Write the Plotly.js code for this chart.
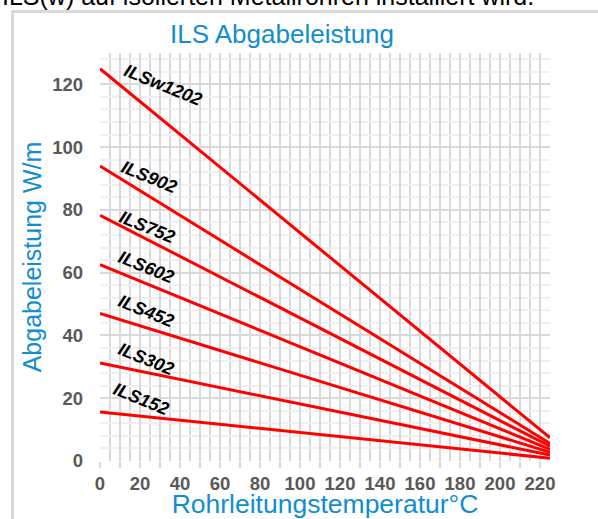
<!DOCTYPE html>
<html>
<head>
<meta charset="utf-8">
<script src="https://cdn.plot.ly/plotly-3.0.1.min.js"></script>
<style>
  html, body { margin: 0; padding: 0; background: #ffffff; }
  #chart { width: 598px; height: 519px; }
</style>
</head>
<body>
<div id="chart"></div>
<script>
// ---- data ----
const seriesNames = ["ILSw1202", "ILS902", "ILS752", "ILS602", "ILS452", "ILS302", "ILS152"];
const temperatures = [0, 225];
const ILSw1202 = [125, 7.4];
const ILS902 = [94, 5.6];
const ILS752 = [78.3, 4.7];
const ILS602 = [62.6, 3.7];
const ILS452 = [47, 2.8];
const ILS302 = [31.2, 1.9];
const ILS152 = [15.6, 0.9];
const seriesValues = [ILSw1202, ILS902, ILS752, ILS602, ILS452, ILS302, ILS152];
const xTickVals = [0, 10, 20, 30, 40, 50, 60, 70, 80, 90, 100, 110, 120, 130, 140, 150, 160, 170, 180, 190, 200, 210, 220];
const xTickText = ["0", "", "20", "", "40", "", "60", "", "80", "", "100", "", "120", "", "140", "", "160", "", "180", "", "200", "", "220"];
const yTickVals = [0, 20, 40, 60, 80, 100, 120];
const titleText = "ILS Abgabeleistung";
const xTitle = "Rohrleitungstemperatur°C";
const yTitle = "Abgabeleistung W/m";
const topText = "ILS(w) auf isolierten Metallrohren installiert wird.";

// ---- label placement (data coords) ----
const labelPos = [
  [31.5, 119.8], [24.5, 90.4], [23.5, 74.5], [23, 61.7], [23, 47.7], [23, 32.4], [20.5, 19.6]
];

const FONT = "Liberation Sans, Arial, sans-serif";
const BLUE = "#108ecf";
const GRID = "#d9d9d9";

const traces = seriesNames.map((name, i) => ({
  type: "scatter",
  mode: "lines",
  name: name,
  x: temperatures,
  y: seriesValues[i],
  line: { color: "#ff0000", width: 3 },
  hoverinfo: "x+y+name"
}));

const annotations = seriesNames.map((name, i) => ({
  x: labelPos[i][0], y: labelPos[i][1], xref: "x", yref: "y",
  text: "<b><i>" + name + "</i></b>",
  showarrow: false, textangle: 22,
  font: { family: FONT, size: 18, color: "#000000" },
  xanchor: "center", yanchor: "middle"
}));

annotations.push({
  xref: "paper", yref: "paper", x: -0.222, y: 1, xanchor: "left", yanchor: "bottom",
  yshift: 53 - 7 - 5,
  text: topText, showarrow: false,
  font: { family: FONT, size: 25, color: "#000000" }
});

const layout = {
  width: 598, height: 519,
  margin: { l: 100, r: 48, t: 53, b: 57.5, pad: 0 },
  paper_bgcolor: "#ffffff",
  plot_bgcolor: "#ffffff",
  showlegend: false,
  title: {
    text: titleText, x: 282 / 598, xanchor: "center", xref: "container",
    y: 1 - 34 / 519, yanchor: "middle", yref: "container",
    font: { family: FONT, size: 26, color: BLUE }
  },
  xaxis: {
    range: [0, 225],
    tickmode: "array", tickvals: xTickVals, ticktext: xTickText,
    ticks: "outside", ticklen: 6, tickwidth: 2, tickcolor: GRID,
    showgrid: true, gridcolor: GRID, gridwidth: 2,
    minor: { dtick: 5, tick0: 0, showgrid: true, gridcolor: GRID, gridwidth: 2, ticks: "" },
    zeroline: false, showline: false,
    tickfont: { family: FONT, size: 18.5, color: "#595959", weight: "bold" },
    title: { text: xTitle, standoff: 1, font: { family: FONT, size: 26.5, color: BLUE } },
    fixedrange: true
  },
  yaxis: {
    range: [0, 130],
    tickmode: "array", tickvals: yTickVals,
    ticks: "", ticklabelstandoff: 16,
    showgrid: true, gridcolor: GRID, gridwidth: 2,
    minor: { dtick: 4, tick0: 0, showgrid: true, gridcolor: "#f0f0f0", gridwidth: 2, ticks: "" },
    zeroline: false, showline: false,
    tickfont: { family: FONT, size: 18.5, color: "#595959", weight: "bold" },
    title: { text: yTitle, standoff: 3, font: { family: FONT, size: 25, color: BLUE } },
    fixedrange: true
  },
  shapes: [{
    type: "rect", xref: "paper", yref: "paper", layer: "below",
    x0: (12.5 - 100) / 450, x1: 1.3,
    y0: -0.3, y1: (461.5 - 11.5) / 408.5,
    line: { color: GRID, width: 3 }, fillcolor: "rgba(0,0,0,0)"
  }],
  annotations: annotations
};

Plotly.newPlot("chart", traces, layout, { displayModeBar: false, staticPlot: true });
</script>
</body>
</html>
